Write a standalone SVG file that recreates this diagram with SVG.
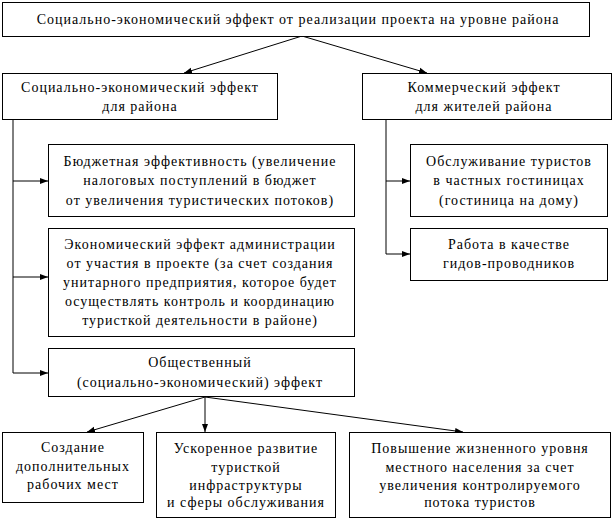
<svg xmlns="http://www.w3.org/2000/svg" width="614" height="530" viewBox="0 0 614 530">
<style>
rect{fill:#fff;stroke:#000;stroke-width:1}
text{font-size:14px;fill:#000;text-anchor:middle;letter-spacing:1px}
.c line,.c path{stroke:#000;stroke-width:1;fill:none}
</style>
<defs>
<marker id="ah" viewBox="0 0 8 8" refX="8" refY="4" markerWidth="8" markerHeight="8" markerUnits="userSpaceOnUse" orient="auto">
<path d="M0,1 L8,4 L0,7 z" fill="#000"/>
</marker>
</defs>
<rect x="0" y="0" width="614" height="530" style="stroke:none"/>
<g class="c">
<line x1="302" y1="36" x2="184" y2="73" marker-end="url(#ah)"/>
<line x1="302" y1="36" x2="427" y2="73" marker-end="url(#ah)"/>
<path d="M13,119 V373"/>
<line x1="13" y1="181" x2="48" y2="181" marker-end="url(#ah)"/>
<line x1="13" y1="277" x2="48" y2="277" marker-end="url(#ah)"/>
<line x1="13" y1="373" x2="48" y2="373" marker-end="url(#ah)"/>
<path d="M386,119 V254"/>
<line x1="386" y1="181" x2="410" y2="181" marker-end="url(#ah)"/>
<line x1="386" y1="254" x2="410" y2="254" marker-end="url(#ah)"/>
<line x1="205" y1="397" x2="87" y2="432" marker-end="url(#ah)"/>
<line x1="205" y1="397" x2="205" y2="432" marker-end="url(#ah)"/>
<line x1="205" y1="397" x2="463" y2="432" marker-end="url(#ah)"/>
</g>
<g font-family="Liberation Serif, DejaVu Serif, serif">
<g id="top"><rect x="2.5" y="2.5" width="587" height="34"/><text x="298" y="24">Социально-экономический эффект от реализации проекта на уровне района</text></g>
<g id="soc"><rect x="2.5" y="73.5" width="275" height="46"/><text x="140" y="92">Социально-экономический эффект</text><text x="140" y="111">для района</text></g>
<g id="com"><rect x="362.5" y="73.5" width="249" height="46"/><text x="484" y="92">Коммерческий эффект</text><text x="484" y="111">для жителей района</text></g>
<g id="bud"><rect x="48.5" y="144.5" width="306" height="72"/><text x="200" y="166">Бюджетная эффективность (увеличение</text><text x="200" y="185">налоговых поступлений в бюджет</text><text x="200" y="205">от увеличения туристических потоков)</text></g>
<g id="eco"><rect x="48.5" y="228.5" width="306" height="108"/><text x="200" y="249">Экономический эффект администрации</text><text x="200" y="268">от участия в проекте (за счет создания</text><text x="200" y="287">унитарного предприятия, которое будет</text><text x="200" y="306">осуществлять контроль и координацию</text><text x="200" y="325">туристкой деятельности в районе)</text></g>
<g id="obs"><rect x="48.5" y="348.5" width="306" height="48"/><text x="200" y="367">Общественный</text><text x="200" y="387">(социально-экономический) эффект</text></g>
<g id="hot"><rect x="410.5" y="144.5" width="197" height="72"/><text x="509" y="166">Обслуживание туристов</text><text x="509" y="185">в частных гостиницах</text><text x="509" y="205">(гостиница на дому)</text></g>
<g id="gid"><rect x="410.5" y="228.5" width="197" height="52"/><text x="509" y="249">Работа в качестве</text><text x="509" y="268">гидов-проводников</text></g>
<g id="job"><rect x="2.5" y="432.5" width="141" height="70"/><text x="73" y="452">Создание</text><text x="73" y="471">дополнительных</text><text x="73" y="489">рабочих мест</text></g>
<g id="inf"><rect x="156.5" y="432.5" width="179" height="85"/><text x="246" y="453">Ускоренное развитие</text><text x="246" y="472">туристкой</text><text x="246" y="490">инфраструктуры</text><text x="246" y="507">и сферы обслуживания</text></g>
<g id="liv"><rect x="349.5" y="432.5" width="261" height="85"/><text x="480" y="453">Повышение жизненного уровня</text><text x="480" y="472">местного населения за счет</text><text x="480" y="490">увеличения контролируемого</text><text x="480" y="507">потока туристов</text></g>
</g>
</svg>
